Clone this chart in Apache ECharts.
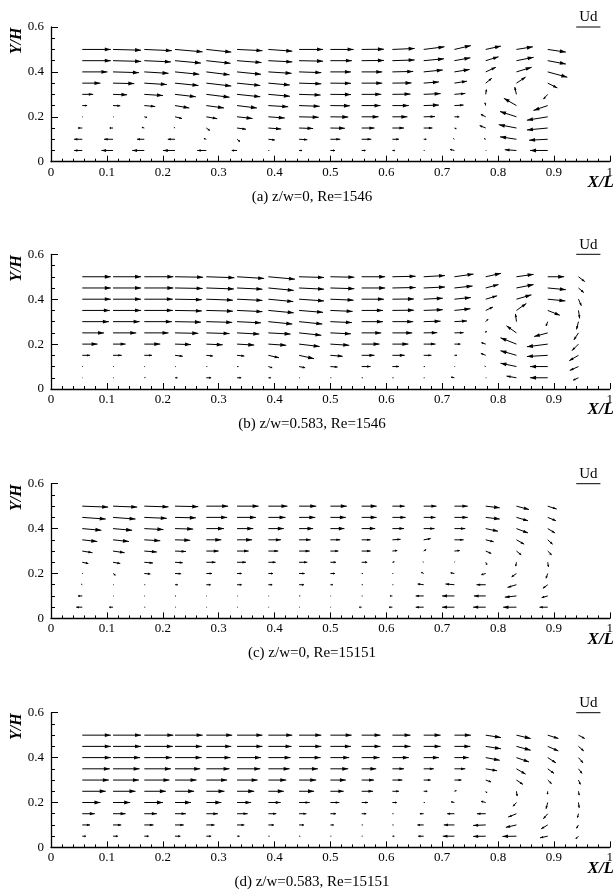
<!DOCTYPE html>
<html>
<head>
<meta charset="utf-8">
<title>velocity vectors</title>
<script src="https://cdn.jsdelivr.net/npm/echarts@6/dist/echarts.min.js"></script>
<style>
	html, body { margin: 0; padding: 0; background: #fff; }
	#chart { width: 616px; height: 895px; }
</style>
</head>
<body>
<div id="chart"></div>
<script>
	//grid positions of the vectors (X/L, Y/H)
	var xPos = [0.056, 0.111, 0.167, 0.222, 0.278, 0.333, 0.389, 0.444, 0.5, 0.556, 0.611, 0.667, 0.722, 0.778, 0.833, 0.889, 0.944];
	var yPos = [0.05, 0.1, 0.15, 0.2, 0.25, 0.3, 0.35, 0.4, 0.45, 0.5];

	//u/Ud, v/Ud : one row per column of vectors, bottom to top
	var uA = [
		[-0.34, -0.34, -0.18, 0.03, 0.2, 0.45, 0.75, 1.04, 1.18, 1.18],
		[-0.48, -0.37, -0.14, 0.03, 0.3, 0.58, 0.88, 1.07, 1.16, 1.16],
		[-0.5, -0.3, -0.1, 0.11, 0.45, 0.77, 0.93, 1.0, 1.1, 1.14],
		[-0.5, -0.3, -0.05, 0.29, 0.59, 0.86, 0.97, 1.0, 1.07, 1.14],
		[-0.38, -0.1, 0.14, 0.45, 0.73, 0.96, 1.03, 0.96, 1.0, 1.03],
		[-0.22, 0.12, 0.37, 0.64, 0.82, 0.96, 0.96, 0.99, 1.01, 1.05],
		[0.04, 0.27, 0.53, 0.68, 0.82, 0.89, 0.89, 0.96, 0.99, 0.99],
		[0.12, 0.34, 0.58, 0.81, 0.85, 0.89, 0.92, 0.92, 0.99, 0.99],
		[0.19, 0.41, 0.6, 0.74, 0.81, 0.85, 0.85, 0.85, 0.89, 0.96],
		[0.16, 0.4, 0.53, 0.7, 0.78, 0.81, 0.85, 0.85, 0.92, 0.92],
		[0.1, 0.27, 0.48, 0.62, 0.68, 0.75, 0.79, 0.86, 0.92, 0.92],
		[0.04, 0.11, 0.36, 0.47, 0.63, 0.7, 0.63, 0.79, 0.84, 0.86],
		[-0.18, -0.05, 0.08, 0.2, 0.38, 0.45, 0.52, 0.63, 0.66, 0.68],
		[0.03, -0.06, -0.25, -0.2, -0.03, 0.03, 0.25, 0.42, 0.53, 0.63],
		[-0.48, -0.68, -0.73, -0.68, -0.52, -0.07, 0.38, 0.63, 0.71, 0.68],
		[-0.73, -0.77, -0.86, -0.86, -0.59, -0.18, 0.4, 0.81, 0.75, 0.75]
	];
	var vA = [
		[0, 0, 0, 0, 0, 0, 0, 0, 0, 0],
		[0, 0, 0, 0, -0.01, -0.02, -0.02, -0.03, -0.03, -0.03],
		[0, 0, 0.03, -0.03, -0.04, -0.05, -0.06, -0.06, -0.05, -0.05],
		[0, 0, 0.03, -0.07, -0.1, -0.1, -0.1, -0.1, -0.1, -0.1],
		[0, 0.03, -0.1, -0.08, -0.1, -0.12, -0.12, -0.12, -0.11, -0.11],
		[0, -0.1, -0.05, -0.07, -0.1, -0.1, -0.1, -0.1, -0.08, -0.05],
		[0, -0.03, -0.04, -0.05, -0.05, -0.08, -0.08, -0.06, -0.05, -0.07],
		[0, -0.02, -0.02, -0.02, -0.03, -0.03, -0.03, -0.03, -0.02, 0],
		[0, 0, -0.01, -0.01, -0.01, -0.01, -0.01, 0, 0, 0],
		[0, 0, 0, 0, 0, 0, 0, 0, 0.01, 0.01],
		[0, 0, 0, 0, 0, 0.01, 0.01, 0.02, 0.03, 0.04],
		[0, 0, 0, 0.01, 0.02, 0.03, 0.05, 0.08, 0.08, 0.11],
		[0.04, 0.03, -0.03, 0, 0.02, 0.04, 0.08, 0.1, 0.12, 0.16],
		[0, 0.03, 0.1, 0.1, 0.12, 0.2, 0.2, 0.19, 0.16, 0.14],
		[0.03, 0.1, 0.14, 0.22, 0.3, 0.3, 0.25, 0.19, 0.14, 0.11],
		[0, -0.04, -0.08, -0.14, -0.2, -0.2, -0.2, -0.22, -0.14, -0.11]
	];

	var uB = [
		[0.02, 0.03, 0.32, 0.63, 0.9, 1.1, 1.14, 1.18, 1.18, 1.18],
		[0.03, 0.03, 0.36, 0.52, 0.96, 1.1, 1.16, 1.16, 1.16, 1.16],
		[0.05, 0.03, 0.32, 0.66, 1.0, 1.14, 1.18, 1.18, 1.2, 1.2],
		[0.1, 0.03, 0.32, 0.66, 0.96, 1.07, 1.11, 1.11, 1.14, 1.16],
		[0.2, 0.04, 0.27, 0.68, 0.96, 1.07, 1.1, 1.1, 1.14, 1.16],
		[0.17, 0.06, 0.3, 0.71, 0.92, 0.99, 1.05, 1.05, 1.05, 1.12],
		[0.1, 0.16, 0.44, 0.74, 0.92, 0.99, 1.05, 1.03, 1.05, 1.1],
		[0.03, 0.25, 0.62, 0.85, 0.92, 0.96, 0.99, 1.03, 1.03, 1.03],
		[0.04, 0.3, 0.51, 0.78, 0.85, 0.89, 0.92, 0.96, 0.99, 0.99],
		[0.05, 0.37, 0.53, 0.74, 0.81, 0.88, 0.88, 0.92, 0.97, 0.97],
		[0.05, 0.27, 0.51, 0.66, 0.82, 0.86, 0.89, 0.89, 0.96, 0.96],
		[0.04, 0.05, 0.32, 0.49, 0.56, 0.7, 0.79, 0.79, 0.88, 0.88],
		[-0.14, 0.03, 0.1, 0.25, 0.38, 0.52, 0.66, 0.68, 0.75, 0.79],
		[0.03, -0.05, -0.2, -0.18, 0.02, 0.1, 0.3, 0.47, 0.53, 0.63],
		[-0.41, -0.66, -0.66, -0.66, -0.41, -0.04, 0.41, 0.62, 0.71, 0.71],
		[-0.73, -0.73, -0.86, -0.86, -0.56, -0.07, 0.5, 0.73, 0.75, 0.68],
		[-0.22, -0.36, -0.38, -0.27, -0.19, -0.08, 0.05, 0.12, 0.22, 0.26]
	];
	var vB = [
		[0, 0, 0, 0, 0, 0, 0, 0, 0, 0],
		[0, 0, 0, 0, 0, 0, 0, 0, 0, 0],
		[0.02, 0, 0, 0, 0, 0, 0, 0, 0, 0],
		[0, 0, -0.04, -0.02, -0.02, -0.02, -0.02, -0.02, -0.02, -0.02],
		[0, 0, -0.03, -0.03, -0.03, -0.03, -0.03, -0.04, -0.04, -0.04],
		[0, 0, -0.03, -0.04, -0.05, -0.05, -0.05, -0.05, -0.05, -0.07],
		[0, -0.05, -0.1, -0.05, -0.05, -0.1, -0.1, -0.1, -0.1, -0.1],
		[0, -0.05, -0.14, -0.1, -0.1, -0.1, -0.08, -0.07, -0.05, -0.03],
		[0, -0.02, -0.04, -0.05, -0.04, -0.04, -0.04, -0.04, -0.03, -0.02],
		[0, 0, 0, 0, 0, 0, 0, 0, 0, 0],
		[0, 0, 0, 0, 0, 0, 0.01, 0.01, 0.02, 0.02],
		[0, 0, 0, 0, 0.01, 0.02, 0.03, 0.04, 0.04, 0.05],
		[0.03, 0, 0, 0, 0.01, 0.03, 0.07, 0.07, 0.08, 0.11],
		[0, 0.02, 0.08, 0.06, 0.08, 0.1, 0.14, 0.14, 0.14, 0.14],
		[0.07, 0.14, 0.19, 0.26, 0.29, 0.32, 0.29, 0.18, 0.14, 0.1],
		[0, 0, -0.05, -0.11, -0.15, -0.18, -0.2, -0.07, -0.07, 0],
		[-0.1, -0.16, -0.22, -0.27, -0.29, -0.32, -0.33, -0.27, -0.19, -0.2]
	];

	var uC = [
		[-0.25, -0.18, -0.05, 0.03, 0.25, 0.42, 0.62, 0.79, 0.97, 1.07],
		[-0.16, 0.03, 0.03, 0.1, 0.3, 0.48, 0.66, 0.79, 0.93, 1.0],
		[0.04, 0.03, 0.04, 0.25, 0.36, 0.52, 0.66, 0.79, 0.93, 1.0],
		[0.03, 0.04, 0.11, 0.25, 0.32, 0.45, 0.63, 0.75, 0.86, 0.96],
		[0.03, 0.03, 0.18, 0.23, 0.38, 0.51, 0.62, 0.73, 0.86, 0.9],
		[0.03, 0.03, 0.19, 0.19, 0.37, 0.48, 0.62, 0.67, 0.78, 0.89],
		[0.03, 0.03, 0.16, 0.19, 0.3, 0.41, 0.52, 0.64, 0.71, 0.79],
		[0.03, 0.05, 0.2, 0.23, 0.34, 0.44, 0.48, 0.58, 0.67, 0.71],
		[0.03, 0.03, 0.1, 0.19, 0.23, 0.33, 0.41, 0.58, 0.64, 0.68],
		[-0.1, 0.04, 0.05, 0.05, 0.23, 0.37, 0.37, 0.56, 0.62, 0.62],
		[-0.14, -0.1, 0.04, 0.04, 0.08, 0.2, 0.34, 0.48, 0.55, 0.51],
		[-0.33, -0.33, -0.25, -0.1, -0.04, 0.1, 0.29, 0.45, 0.49, 0.53],
		[-0.51, -0.51, -0.37, -0.16, 0.03, 0.22, 0.38, 0.45, 0.55, 0.55],
		[-0.52, -0.49, -0.38, -0.18, 0.05, 0.23, 0.33, 0.51, 0.58, 0.58],
		[-0.55, -0.48, -0.37, -0.2, -0.03, 0.2, 0.32, 0.48, 0.48, 0.52],
		[-0.34, -0.25, -0.2, -0.07, 0.03, 0.16, 0.2, 0.3, 0.34, 0.37]
	];
	var vC = [
		[0, 0, 0.03, 0, -0.05, -0.07, -0.07, -0.07, -0.07, -0.04],
		[0, 0, 0, -0.07, -0.05, -0.07, -0.07, -0.07, -0.07, -0.04],
		[0, 0, 0, -0.02, -0.03, -0.04, -0.04, -0.04, -0.04, -0.03],
		[0, 0, 0, -0.01, -0.02, -0.02, -0.02, -0.02, -0.02, -0.02],
		[0, 0, 0, 0, 0, 0, 0, 0, 0, 0],
		[0, 0, 0, 0, 0, 0, 0, 0, 0, 0],
		[0, 0, 0, 0, 0, 0, 0, 0, 0, 0],
		[0, 0, 0, 0, 0, 0, 0, 0, 0, 0],
		[0, 0, 0, 0, 0, 0, 0, 0, 0, 0],
		[0, 0, 0, 0, 0, 0, 0, 0, 0, 0],
		[0, 0, 0, 0, 0.02, 0.02, 0.02, 0, 0, 0],
		[0, 0, 0.03, 0.05, 0.03, 0.06, 0.05, 0, 0, 0],
		[0, 0, 0.03, 0.03, 0.03, 0.02, 0, 0, 0, 0],
		[0, 0, 0, -0.05, -0.1, -0.1, -0.08, -0.11, -0.07, -0.07],
		[0, -0.05, -0.11, -0.14, -0.16, -0.16, -0.18, -0.18, -0.14, -0.14],
		[0, -0.07, -0.15, -0.2, -0.19, -0.16, -0.18, -0.18, -0.14, -0.12]
	];

	var uD = [
		[0.15, 0.32, 0.52, 0.75, 0.97, 1.1, 1.14, 1.18, 1.18, 1.18],
		[0.2, 0.34, 0.52, 0.71, 0.93, 1.07, 1.1, 1.12, 1.16, 1.16],
		[0.18, 0.38, 0.52, 0.77, 0.89, 1.04, 1.1, 1.14, 1.18, 1.2],
		[0.22, 0.36, 0.45, 0.66, 0.79, 0.89, 1.04, 1.1, 1.11, 1.14],
		[0.2, 0.34, 0.48, 0.62, 0.75, 0.86, 0.96, 1.0, 1.03, 1.07],
		[0.1, 0.3, 0.44, 0.58, 0.71, 0.85, 0.96, 0.99, 1.05, 1.05],
		[0.05, 0.23, 0.33, 0.51, 0.64, 0.74, 0.88, 0.92, 0.96, 0.99],
		[0.05, 0.2, 0.3, 0.44, 0.62, 0.71, 0.78, 0.89, 0.92, 0.92],
		[0.04, 0.14, 0.23, 0.37, 0.55, 0.64, 0.74, 0.78, 0.85, 0.88],
		[0.04, 0.05, 0.19, 0.26, 0.47, 0.51, 0.6, 0.74, 0.78, 0.78],
		[0.08, 0.05, 0.05, 0.18, 0.27, 0.41, 0.48, 0.68, 0.75, 0.75],
		[-0.23, -0.26, -0.16, 0.05, 0.15, 0.29, 0.42, 0.63, 0.7, 0.7],
		[-0.48, -0.44, -0.3, -0.14, 0.08, 0.29, 0.45, 0.59, 0.66, 0.68],
		[-0.52, -0.52, -0.36, -0.19, 0.05, 0.22, 0.47, 0.58, 0.63, 0.63],
		[-0.58, -0.44, -0.34, -0.14, 0.03, 0.27, 0.38, 0.52, 0.59, 0.59],
		[-0.32, -0.27, -0.18, -0.07, -0.01, 0.16, 0.26, 0.34, 0.44, 0.44],
		[-0.11, -0.08, -0.04, 0.03, 0.03, 0.08, 0.15, 0.19, 0.22, 0.26]
	];
	var vD = [
		[0, 0, 0, 0, 0, 0, 0, 0, 0, 0],
		[0, 0, 0, 0, 0, 0, 0, 0, 0, 0],
		[0, 0, 0, 0, 0, 0, 0, 0, 0, 0],
		[0, 0, 0, 0, 0, 0, 0, 0, 0, 0],
		[0, 0, 0, 0, 0, 0, 0, 0, 0, 0],
		[0, 0, 0, 0, 0, 0, 0, 0, 0, 0],
		[0, 0, 0, 0, 0, 0, 0, 0, 0, 0],
		[0, 0, 0, 0, 0, 0, 0, 0, 0, 0],
		[0, 0, 0, 0, 0, 0, 0, 0, 0, 0],
		[0, 0, 0, 0, 0, 0, 0, 0, 0, 0],
		[0, 0, 0, 0, 0, 0, 0, 0, 0, 0],
		[0, 0, 0, 0, 0, 0, 0, 0, 0, 0],
		[0, 0, 0, 0.03, 0.03, 0, 0, 0, 0, 0],
		[-0.01, -0.02, 0, 0.05, -0.07, -0.08, -0.08, -0.11, -0.1, -0.1],
		[-0.01, -0.1, -0.14, -0.16, -0.2, -0.18, -0.22, -0.18, -0.16, -0.14],
		[-0.07, -0.16, -0.21, -0.26, -0.12, -0.15, -0.19, -0.22, -0.19, -0.14],
		[-0.11, -0.14, -0.16, -0.22, -0.16, -0.18, -0.19, -0.22, -0.19, -0.14]
	];

	var captions = ['(a) z/w=0, Re=1546', '(b) z/w=0.583, Re=1546', '(c) z/w=0, Re=15151', '(d) z/w=0.583, Re=15151'];
	var uList = [uA, uB, uC, uD];
	var vList = [vA, vB, vC, vD];

	//reference vector Ud, its length in X/L units and where it sits
	var UD_LEN = 0.0433;
	var udRef = [0.94, 0.6];

	//panel layout (px)
	var panelTop = [27, 254.3, 483.7, 712.7];
	var panelH = 134.7;
	var gridLeft = 51;
	var gridW = 561;
	var FONT = '"Liberation Serif", "DejaVu Serif", serif';

	//把矩阵转成 [x, y, u, v]
	function build_data(u, v) {
		var out = [];
		for(var i = 0; i < u.length; i++) {
			for(var j = 0; j < yPos.length; j++) {
				out.push([xPos[i], yPos[j], u[i][j], v[i][j]]);
			}
		}
		return out;
	}

	function render_arrow(params, api) {
		var p0 = api.coord([api.value(0), api.value(1)]);
		var ud = api.size([UD_LEN, 0])[0];
		var dx = api.value(2) * ud;
		var dy = -api.value(3) * ud;
		var len = Math.sqrt(dx * dx + dy * dy);
		var p1 = [p0[0] + dx, p0[1] + dy];
		var children = [{
			type: 'line',
			shape: { x1: p0[0], y1: p0[1], x2: p1[0], y2: p1[1] },
			style: { stroke: '#000', lineWidth: 1 }
		}];
		if(len > 1.5) {
			var ux = dx / len, uy = dy / len;
			var hl = Math.min(6, len * 0.4);
			var hw = Math.max(1.2, hl * 0.32);
			var b = [p1[0] - ux * hl, p1[1] - uy * hl];
			children.push({
				type: 'polygon',
				shape: { points: [p1, [b[0] - uy * hw, b[1] + ux * hw], [b[0] + uy * hw, b[1] - ux * hw]] },
				style: { fill: '#000' }
			});
		}
		return { type: 'group', children: children };
	}

	function render_ref(params, api) {
		var p0 = api.coord([api.value(0), api.value(1)]);
		var ud = api.size([UD_LEN, 0])[0];
		return {
			type: 'group',
			children: [{
				type: 'line',
				shape: { x1: p0[0], y1: p0[1], x2: p0[0] + ud, y2: p0[1] },
				style: { stroke: '#000', lineWidth: 1 }
			}, {
				type: 'text',
				x: p0[0] + ud / 2,
				y: p0[1] - 2,
				style: { text: 'Ud', fill: '#000', font: '15px ' + FONT, textAlign: 'center', textVerticalAlign: 'bottom' }
			}]
		};
	}

	var grids = [], xAxes = [], yAxes = [], series = [], graphics = [];
	for(var k = 0; k < 4; k++) {
		var pTop = panelTop[k];
		grids.push({ left: gridLeft, top: pTop, width: gridW, height: panelH });
		xAxes.push({
			type: 'value', gridIndex: k, min: 0, max: 1, interval: 0.1,
			axisLine: { lineStyle: { color: '#000', width: 1.3 } },
			axisTick: { inside: true, length: 6, lineStyle: { color: '#000' } },
			minorTick: { show: true, splitNumber: 5, length: 3, lineStyle: { color: '#000' } },
			splitLine: { show: false },
			axisLabel: { margin: 4, color: '#000', fontFamily: FONT, fontSize: 13 }
		});
		yAxes.push({
			type: 'value', gridIndex: k, min: 0, max: 0.6, interval: 0.2,
			axisLine: { show: true, lineStyle: { color: '#000', width: 1.3 } },
			axisTick: { show: true, inside: true, length: 7, lineStyle: { color: '#000' } },
			minorTick: { show: true, splitNumber: 4, length: 4, lineStyle: { color: '#000' } },
			splitLine: { show: false },
			axisLabel: { margin: 7, color: '#000', fontFamily: FONT, fontSize: 13 }
		});
		series.push({
			type: 'custom', xAxisIndex: k, yAxisIndex: k,
			renderItem: render_arrow,
			data: build_data(uList[k], vList[k]),
			silent: true, animation: false
		});
		series.push({
			type: 'custom', xAxisIndex: k, yAxisIndex: k,
			renderItem: render_ref,
			data: [udRef],
			silent: true, animation: false
		});
		//轴名和标题
		graphics.push({
			type: 'text', x: 17, y: pTop + 14, rotation: Math.PI / 2,
			style: { text: 'Y/H', fill: '#000', font: 'italic bold 16px ' + FONT, textAlign: 'center', textVerticalAlign: 'middle' }
		});
		graphics.push({
			type: 'text', x: 614, y: pTop + panelH + 21,
			style: { text: 'X/L', fill: '#000', font: 'italic bold 17px ' + FONT, textAlign: 'right', textVerticalAlign: 'middle' }
		});
		graphics.push({
			type: 'text', x: 312, y: pTop + panelH + 35,
			style: { text: captions[k], fill: '#000', font: '15px ' + FONT, textAlign: 'center', textVerticalAlign: 'middle' }
		});
	}

	var myChart = echarts.init(document.getElementById('chart'), null, { renderer: 'canvas' });
	myChart.setOption({
		backgroundColor: '#fff',
		animation: false,
		grid: grids,
		xAxis: xAxes,
		yAxis: yAxes,
		series: series,
		graphic: graphics
	});
</script>
</body>
</html>
